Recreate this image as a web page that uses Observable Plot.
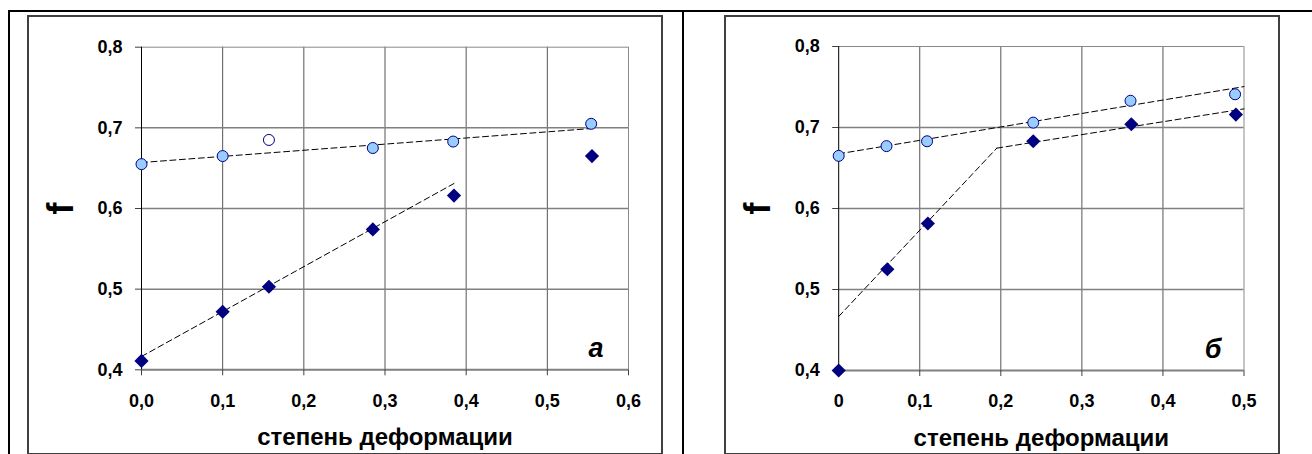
<!DOCTYPE html>
<html>
<head>
<meta charset="utf-8">
<script src="https://cdn.jsdelivr.net/npm/d3@7"></script>
<script src="https://cdn.jsdelivr.net/npm/@observablehq/plot@0.6"></script>
<style>
  html, body { margin: 0; padding: 0; background: #fff; }
  body { width: 1312px; height: 454px; position: relative; overflow: hidden; font-family: Arial, "Liberation Sans", sans-serif; }
  .abs { position: absolute; }
  .line { position: absolute; background: #000; }
  .box { position: absolute; box-sizing: border-box; border: 2px solid #404040; }
</style>
</head>
<body>
<div class="box" style="left:27px;top:15px;width:636px;height:440px;"></div>
<div class="box" style="left:724px;top:15px;width:556px;height:440px;"></div>
<div class="line" style="left:8px;top:10px;width:1304px;height:2px;"></div>
<div class="line" style="left:8px;top:10px;width:2px;height:444px;"></div>
<div class="line" style="left:682px;top:10px;width:2px;height:444px;"></div>
<div id="panelA" class="abs" style="left:0;top:0;"></div>
<div id="panelB" class="abs" style="left:682px;top:0;"></div>
<script>
// ---- axes ----
const yTicks = [0.4, 0.5, 0.6, 0.7, 0.8];
const yLabels = ["0,4", "0,5", "0,6", "0,7", "0,8"];
const xTicksA = [0, 0.1, 0.2, 0.3, 0.4, 0.5, 0.6];
const xLabelsA = ["0,0", "0,1", "0,2", "0,3", "0,4", "0,5", "0,6"];
const xTicksB = [0, 0.1, 0.2, 0.3, 0.4, 0.5];
const xLabelsB = ["0", "0,1", "0,2", "0,3", "0,4", "0,5"];
const xTitle = "степень деформации";
const yTitle = "f";

// ---- panel а ----
const aCircleX = [0, 0.100, 0.285, 0.384, 0.554];
const aCircleF = [0.655, 0.665, 0.675, 0.683, 0.705];
const aOpenX = [0.157];
const aOpenF = [0.685];
const aDiamondX = [0, 0.100, 0.157, 0.285, 0.385, 0.555];
const aDiamondF = [0.411, 0.472, 0.503, 0.574, 0.616, 0.665];
const aTrendCircleX = [0, 0.552];
const aTrendCircleF = [0.657, 0.699];
const aTrendDiamondX = [0, 0.385];
const aTrendDiamondF = [0.4165, 0.631];

// ---- panel б ----
const bCircleX = [0, 0.059, 0.109, 0.240, 0.360, 0.489];
const bCircleF = [0.665, 0.677, 0.683, 0.706, 0.733, 0.741];
const bDiamondX = [0, 0.060, 0.110, 0.240, 0.361, 0.490];
const bDiamondF = [0.400, 0.525, 0.5815, 0.683, 0.704, 0.716];
const bTrendCircleX = [0, 0.5];
const bTrendCircleF = [0.6675, 0.7505];
const bTrendDiamond1X = [0, 0.195];
const bTrendDiamond1F = [0.4667, 0.6745];
const bTrendDiamond2X = [0.195, 0.5];
const bTrendDiamond2F = [0.6745, 0.723];

const zip = (xs, ys) => xs.map((x, i) => ({x, y: ys[i]}));
const fmt = (ticks, labels) => d => labels[ticks.findIndex(t => Math.abs(t - d) < 1e-9)];

function panel(cfg) {
  const xmax = cfg.xTicks[cfg.xTicks.length - 1];
  const lines = cfg.trends.map(t => Plot.line(zip(t[0], t[1]), {
    x: "x", y: "y", stroke: "#000", strokeWidth: 1, strokeDasharray: "6,3.5"
  }));
  const marks = [
    Plot.gridX({ticks: cfg.xTicks.slice(1, -1), stroke: "#555", strokeOpacity: 1, strokeWidth: 1}),
    Plot.gridY({ticks: [0.5, 0.6, 0.7], stroke: "#808080", strokeOpacity: 1, strokeWidth: 1.5}),
    Plot.ruleY([0.8], {stroke: "#8a8a8a", strokeWidth: 1}),
    Plot.ruleX([xmax], {stroke: "#8a8a8a", strokeWidth: 1}),
    Plot.ruleY([0.4], {stroke: "#808080", strokeWidth: 2}),
    Plot.ruleX([0], {stroke: "#000", strokeWidth: 1}),
    Plot.axisX({ticks: cfg.xTicks, tickFormat: fmt(cfg.xTicks, cfg.xLabels), tickSize: 6, tickPadding: 18,
      stroke: "#404040", fill: "#000", fontSize: 18, fontWeight: "bold", label: null}),
    Plot.axisY({ticks: yTicks, tickFormat: fmt(yTicks, yLabels), tickSize: 6, tickPadding: 13,
      stroke: "#404040", fill: "#000", fontSize: 18, fontWeight: "bold", label: null}),
    ...lines,
    Plot.dot(zip(cfg.diamondX, cfg.diamondF), {x: "x", y: "y", symbol: "diamond2", r: 6.4, fill: "#000080", stroke: "none"}),
    Plot.dot(zip(cfg.circleX, cfg.circleF), {x: "x", y: "y", symbol: "circle", r: 5.5, fill: "#99CCFF", stroke: "#000080", strokeWidth: 1}),
    cfg.openX ? Plot.dot(zip(cfg.openX, cfg.openF), {x: "x", y: "y", symbol: "circle", r: 5.5, fill: "#fff", stroke: "#000080", strokeWidth: 1}) : null,
    Plot.text([yTitle], {text: d => d, frameAnchor: "left", textAnchor: "middle", lineAnchor: "middle", dx: -80.5, rotate: -90,
      fontSize: 36, fontWeight: "bold", fill: "#000"}),
    Plot.text([xTitle], {text: d => d, frameAnchor: "bottom", textAnchor: "middle", lineAnchor: "middle", dy: cfg.titleDy,
      fontSize: 24, fontWeight: "bold", fill: "#000"}),
    Plot.text([cfg.letter], {text: d => d, frameAnchor: "bottom-right", textAnchor: "middle", lineAnchor: "middle",
      dx: cfg.letterDx, dy: cfg.letterDy, fontSize: 27, fontWeight: "bold", fontStyle: "italic", fill: "#000"})
  ];
  return Plot.plot({
    width: cfg.width, height: 454,
    marginLeft: cfg.ml, marginRight: cfg.mr, marginTop: cfg.mt, marginBottom: cfg.mb,
    x: {domain: [0, xmax]},
    y: {domain: [0.4, 0.8]},
    style: {background: "transparent", overflow: "visible", fontFamily: "Arial, 'Liberation Sans', sans-serif",
      fontSize: "18px", fontWeight: "bold", color: "#000"},
    marks
  });
}

document.getElementById("panelA").append(panel({
  width: 682, ml: 141, mr: 54, mt: 46.7, mb: 84.7,
  xTicks: xTicksA, xLabels: xLabelsA,
  circleX: aCircleX, circleF: aCircleF, openX: aOpenX, openF: aOpenF,
  diamondX: aDiamondX, diamondF: aDiamondF,
  trends: [[aTrendCircleX, aTrendCircleF], [aTrendDiamondX, aTrendDiamondF]],
  titleDy: 68, letter: "а", letterDx: -32.5, letterDy: -21
}));
document.getElementById("panelB").append(panel({
  width: 630, ml: 156.2, mr: 68.5, mt: 46, mb: 84,
  xTicks: xTicksB, xLabels: xLabelsB,
  circleX: bCircleX, circleF: bCircleF,
  diamondX: bDiamondX, diamondF: bDiamondF,
  trends: [[bTrendCircleX, bTrendCircleF], [bTrendDiamond1X, bTrendDiamond1F], [bTrendDiamond2X, bTrendDiamond2F]],
  titleDy: 67.5, letter: "б", letterDx: -31, letterDy: -21.5
}));
</script>
</body>
</html>
